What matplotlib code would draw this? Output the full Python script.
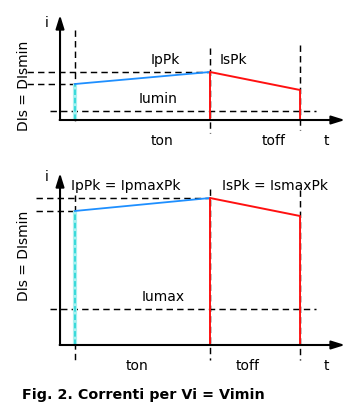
import matplotlib
matplotlib.use("Agg")
import matplotlib.pyplot as plt

plt.rcParams['font.family'] = ['DejaVu Sans']
plt.rcParams['lines.scale_dashes'] = False

# ---- data (time in units of ton, currents in arbitrary units) ----
t_marks = [0.0, 1.0, 1.667]          # start, end of ton, end of toff
t_axis_end = 2.0
# top panel (DIs = DIsmin, Iumin)
top_Iu = 0.75
top_Ip = [3.0, 4.0]                  # primary current start / peak
top_Is = [4.0, 2.5]                  # secondary current peak / end
# bottom panel (Iumax)
bot_Iu = 3.0
bot_Ip = [11.17, 12.25]
bot_Is = [12.25, 10.75]

top_labels = dict(pk="IpPk", sk="IsPk", iu="Iumin")
bot_labels = dict(pk="IpPk = IpmaxPk", sk="IsPk = IsmaxPk", iu="Iumax")
side_label = "DIs = DIsmin"
time_labels = ["ton", "toff", "t"]
caption = "Fig. 2. Correnti per Vi = Vimin"

W, H = 360, 419
fig = plt.figure(figsize=(W / 100, H / 100), dpi=100)

DASH = (0, (4.6, 3.0))
BLUE = '#1e8fff'
RED = '#ff1010'
FS = 10


def panel(ax, Iu, Ip, Is, labels, y_top_arrow, vdash, hd_left, lab_pos):
    ax.set_xlim(-0.5556, 2.1111)
    ax.axis('off')
    t0, t1, t2 = t_marks
    # axes with arrows
    ax.annotate('', xy=(-0.111, y_top_arrow), xytext=(-0.111, 0),
                arrowprops=dict(arrowstyle='-|>,head_length=0.8,head_width=0.25',
                                lw=1.5, color='black', shrinkA=0, shrinkB=0))
    ax.annotate('', xy=(t_axis_end, 0), xytext=(-0.111 - 0.003, 0),
                arrowprops=dict(arrowstyle='-|>,head_length=0.8,head_width=0.25',
                                lw=1.5, color='black', shrinkA=0, shrinkB=0))
    # vertical dashed time markers
    for t, (a, b) in zip(t_marks, vdash):
        ax.plot([t, t], [a, b], color='black', lw=1.05, linestyle=DASH)
    # horizontal dashed levels
    ax.plot([hd_left, t1], [Ip[1], Ip[1]], color='black', lw=1.05, linestyle=DASH)
    ax.plot([hd_left, t0], [Ip[0], Ip[0]], color='black', lw=1.05, linestyle=DASH)
    ax.plot([-0.185, 1.785], [Iu, Iu], color='black', lw=1.05, linestyle=DASH)
    # cyan rising edge
    ax.plot([t0, t0], [0, Ip[0]], color='#a8f0f0', lw=3.0, solid_capstyle='butt')
    ax.plot([t0, t0], [0, Ip[0]], color='#30d8d8', lw=1.3, linestyle=(0, (4, 2)))
    # primary current
    ax.plot([t0, t1], Ip, color=BLUE, lw=1.3)
    # secondary current
    ax.plot([t1, t1, t2, t2], [0, Is[0], Is[1], 0], color=RED, lw=1.4)
    # labels
    (pi, pk, sk, iu, side, tl) = lab_pos
    ax.text(pi[0], pi[1], 'i', fontsize=FS, ha='center', va='center')
    ax.text(pk[0], pk[1], labels['pk'], fontsize=FS, ha='center', va='center')
    ax.text(sk[0], sk[1], labels['sk'], fontsize=FS, ha='center', va='center')
    ax.text(iu[0], iu[1], labels['iu'], fontsize=FS, ha='center', va='center')
    ax.text(side[0], side[1], side_label, fontsize=FS, ha='center', va='center',
            rotation=90)
    for (x, y), s in zip(tl, time_labels):
        ax.text(x, y, s, fontsize=FS, ha='center', va='center')


top_h = 160
ax1 = fig.add_axes([0, 1 - top_h / H, 1, top_h / H])
ax1.set_ylim(-3.333, 10.0)
panel(ax1, top_Iu, top_Ip, top_Is, top_labels, 8.75,
      [(7.5, -0.42), (6.0, -1.08), (6.25, -0.83)], -0.356,
      ((-0.207, 8.08), (0.667, 5.0), (1.17, 5.0), (0.615, 1.75),
       (-0.378, 2.83), ((0.644, -1.75), (1.474, -1.75), (1.86, -1.75))))

ax2 = fig.add_axes([0, 0, 1, 1 - top_h / H])
ax2.set_ylim(-6.167, 15.417)
panel(ax2, bot_Iu, bot_Ip, bot_Is, bot_labels, 14.33,
      [(12.5, -1.25), (13.0, -1.25), (12.9, -1.25)], -0.289,
      ((-0.207, 14.0), (0.378, 13.25), (1.48, 13.25), (0.652, 4.0),
       (-0.378, 7.42), ((0.459, -1.75), (1.281, -1.75), (1.86, -1.75))))

fig.text(22 / W, 1 - 395 / H, caption, fontsize=10.3, fontweight='bold',
         ha='left', va='center')

fig.savefig('out.png', dpi=100)
